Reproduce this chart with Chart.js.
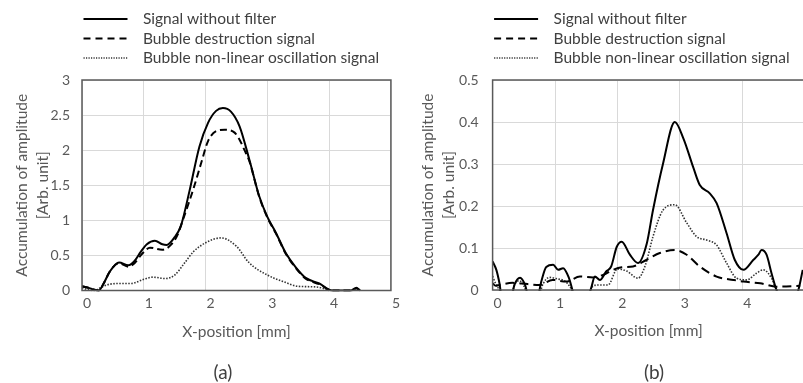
<!DOCTYPE html>
<html>
<head>
<meta charset="utf-8">
<script src="https://cdn.jsdelivr.net/npm/chart.js@4.4.1/dist/chart.umd.min.js"></script>
<style>
  html, body { margin: 0; padding: 0; background: #fff; overflow: hidden; }
  .panel { position: absolute; top: 0; height: 383px; }
  #wrapA { left: 0; width: 400px; }
  #wrapB { left: 400px; width: 420px; }
</style>
</head>
<body>
<div class="panel" id="wrapA"><canvas id="chartA" width="400" height="383"></canvas></div>
<div class="panel" id="wrapB"><canvas id="chartB" width="420" height="383"></canvas></div>
<script>
// series labels (shared by both panels)
const seriesLabels = ['Signal without filter', 'Bubble destruction signal', 'Bubble non-linear oscillation signal'];
const xTicks = [0, 1, 2, 3, 4, 5];

// panel (a) : [x-position mm, amplitude]
const aSolid = [[0,0.06],[0.1,0.04],[0.2,0.01],[0.27,0],[0.35,0.1],[0.45,0.27],[0.6,0.4],[0.75,0.36],[0.85,0.42],
  [0.95,0.55],[1.05,0.66],[1.18,0.71],[1.3,0.66],[1.37,0.65],[1.5,0.76],[1.6,0.92],[1.74,1.42],[1.9,2.05],[2.04,2.39],
  [2.17,2.56],[2.28,2.6],[2.41,2.55],[2.55,2.34],[2.71,1.86],[2.87,1.34],[3.0,1.05],[3.14,0.82],[3.3,0.53],[3.46,0.33],
  [3.62,0.18],[3.84,0.1],[4.05,0],[4.35,0],[4.44,0.04],[4.5,0]];
const aDashed = [[0,0.06],[0.1,0.04],[0.2,0.01],[0.27,0],[0.35,0.1],[0.45,0.27],[0.6,0.39],[0.75,0.34],[0.85,0.39],
  [0.97,0.52],[1.1,0.61],[1.3,0.58],[1.45,0.66],[1.55,0.8],[1.65,1.05],[1.8,1.44],[1.93,1.82],[2.04,2.13],[2.17,2.27],
  [2.31,2.29],[2.47,2.25],[2.55,2.15],[2.63,2.0],[2.71,1.84],[2.87,1.33],[3.0,1.04],[3.14,0.81],[3.3,0.52],[3.46,0.32],
  [3.62,0.17],[3.84,0.09],[4.05,0],[4.35,0],[4.44,0.03],[4.5,0]];
const aDotted = [[0,0.04],[0.1,0.01],[0.2,0],[0.3,0.04],[0.4,0.08],[0.6,0.1],[0.8,0.1],[1.0,0.16],[1.15,0.19],[1.35,0.17],
  [1.5,0.22],[1.65,0.38],[1.8,0.55],[2.0,0.68],[2.25,0.75],[2.5,0.63],[2.7,0.4],[3.0,0.22],[3.25,0.13],[3.5,0.06],
  [3.8,0.05],[4.0,0]];
const aYTicks = [0, 0.5, 1, 1.5, 2, 2.5, 3];

// panel (b)
const bSolid = [[0,0.068],[0.06,0.048],[0.11,0.016],[0.16,-0.03],[0.28,-0.03],[0.35,0.012],[0.44,0.029],[0.52,0.012],
  [0.6,-0.03],[0.7,-0.03],[0.78,0.02],[0.86,0.055],[0.97,0.06],[1.05,0.048],[1.13,0.052],[1.22,0.03],[1.3,-0.01],
  [1.4,-0.04],[1.5,-0.03],[1.58,0.005],[1.64,0.032],[1.72,0.024],[1.82,0.044],[1.9,0.056],[1.99,0.103],[2.07,0.115],
  [2.2,0.084],[2.33,0.064],[2.47,0.11],[2.57,0.19],[2.73,0.30],[2.92,0.40],[3.06,0.36],[3.22,0.29],[3.32,0.25],
  [3.48,0.23],[3.59,0.207],[3.75,0.135],[3.88,0.072],[4.02,0.048],[4.18,0.072],[4.26,0.084],[4.31,0.095],[4.39,0.084],
  [4.47,0.04],[4.55,0],[4.65,-0.03],[4.8,-0.03],[4.9,0],[4.97,0.048]];
const bDashed = [[0,0.016],[0.05,0.01],[0.11,0.012],[0.32,0.017],[0.56,0.014],[0.75,0.012],[0.96,0.024],[1.18,0.02],
  [1.4,0.032],[1.61,0.03],[1.77,0.036],[1.93,0.048],[2.07,0.054],[2.25,0.056],[2.47,0.072],[2.68,0.088],[2.92,0.095],
  [3.11,0.084],[3.32,0.056],[3.59,0.032],[3.86,0.024],[4.02,0.02],[4.29,0.016],[4.55,0.008],[4.93,0.01]];
const bDotted = [[0,0.033],[0.05,0.015],[0.11,0],[0.2,-0.02],[0.3,-0.01],[0.36,0.015],[0.43,0.022],[0.5,0.01],
  [0.58,-0.02],[0.72,-0.02],[0.81,0.015],[0.91,0.03],[1.05,0.026],[1.15,0.022],[1.25,0.005],[1.32,-0.02],[1.5,-0.02],
  [1.6,0.008],[1.7,0.012],[1.85,0.012],[2.0,0.05],[2.15,0.045],[2.33,0.028],[2.45,0.06],[2.57,0.127],[2.73,0.19],
  [2.92,0.203],[3.11,0.16],[3.27,0.127],[3.43,0.119],[3.59,0.107],[3.75,0.064],[3.91,0.028],[4.07,0.024],[4.23,0.04],
  [4.34,0.048],[4.47,0.028],[4.55,0],[4.65,-0.02]];
const bYTicks = [0, 0.1, 0.2, 0.3, 0.4, 0.5];

const FONT = "Lato, 'Open Sans', sans-serif";
const TEXT = '#595959';
Chart.defaults.font.family = FONT;
Chart.defaults.color = TEXT;

const toXY = arr => arr.map(p => ({ x: p[0], y: p[1] }));

// draws the box, the stacked legend above the plot and the (a)/(b) caption
const decorPlugin = {
  id: 'decor',
  afterDraw(chart, args, opts) {
    const { ctx, chartArea: ca } = chart;
    ctx.save();
    ctx.strokeStyle = '#595959';
    ctx.lineWidth = 1.5;
    ctx.strokeRect(ca.left, ca.top, ca.right - ca.left, ca.bottom - ca.top);

    const rows = [19, 38.5, 58];
    chart.data.datasets.forEach((ds, i) => {
      const x0 = ca.left + 1.5;
      ctx.beginPath();
      ctx.strokeStyle = ds.borderColor;
      ctx.lineWidth = ds.borderWidth;
      ctx.setLineDash(ds.legendDash || []);
      ctx.moveTo(x0, rows[i]);
      ctx.lineTo(x0 + 44, rows[i]);
      ctx.stroke();
      ctx.setLineDash([]);
      ctx.fillStyle = '#404040';
      ctx.font = '15.5px ' + FONT;
      ctx.textBaseline = 'middle';
      ctx.textAlign = 'left';
      ctx.fillText(ds.label, x0 + 59.5, rows[i]);
    });

    ctx.fillStyle = '#404040';
    ctx.font = '19px ' + FONT;
    ctx.textAlign = 'center';
    ctx.textBaseline = 'middle';
    ctx.fillText(opts.caption, opts.captionX, 373);
    ctx.restore();
  }
};

function makeChart(id, cfg) {
  return new Chart(document.getElementById(id), {
    type: 'line',
    data: {
      datasets: [
        { label: seriesLabels[0], data: toXY(cfg.solid), borderColor: '#000', borderWidth: 2, legendDash: [] },
        { label: seriesLabels[1], data: toXY(cfg.dashed), borderColor: '#000', borderWidth: 2,
          borderDash: cfg.dash, legendDash: [7, 5] },
        { label: seriesLabels[2], data: toXY(cfg.dotted), borderColor: '#333', borderWidth: 1.6,
          borderDash: [1.5, 1.5], legendDash: [1.2, 1.3] }
      ]
    },
    options: {
      responsive: false,
      animation: false,
      events: [],
      layout: { padding: { top: 80, right: cfg.padR, bottom: 383 - cfg.bottom - 50, left: 0 } },
      elements: {
        point: { radius: 0 },
        line: { cubicInterpolationMode: 'monotone', fill: false }
      },
      datasets: { line: { clip: 1 } },
      plugins: {
        legend: { display: false },
        tooltip: { enabled: false },
        decor: { caption: cfg.caption, captionX: cfg.captionX }
      },
      scales: {
        x: {
          type: 'linear', min: xTicks[0], max: xTicks[xTicks.length - 1],
          afterBuildTicks: s => { s.ticks = xTicks.map(v => ({ value: v })); },
          afterFit: s => { s.height = 50; },
          grid: { color: '#d9d9d9', lineWidth: 1, drawTicks: false },
          border: { display: false },
          ticks: { padding: 5, labelOffset: 5, font: { size: 14 }, color: TEXT, callback: v => String(v) },
          title: { display: true, text: 'X-position [mm]', font: { size: 15.5, lineHeight: 1.1 }, color: TEXT, padding: 0 }
        },
        y: {
          type: 'linear', min: cfg.yTicks[0], max: cfg.yTicks[cfg.yTicks.length - 1],
          afterBuildTicks: s => { s.ticks = cfg.yTicks.map(v => ({ value: v })); },
          afterFit: s => { s.width = cfg.yW; },
          grid: { color: '#d9d9d9', lineWidth: 1, drawTicks: false },
          border: { display: false },
          ticks: { padding: cfg.yPad, font: { size: 14 }, color: TEXT, callback: v => String(v) },
          title: {
            display: true, text: ['Accumulation of amplitude', '[Arb. unit]'],
            font: { size: 15.5, lineHeight: 1.36 }, color: TEXT, padding: { top: cfg.titlePad, bottom: 0 }
          }
        }
      }
    },
    plugins: [decorPlugin]
  });
}

makeChart('chartA', {
  solid: aSolid, dashed: aDashed, dotted: aDotted, yTicks: aYTicks, dash: [7, 4],
  yW: 82, padR: 8, bottom: 290.5, yPad: 12, titlePad: 11.2, caption: '(a)', captionX: 223
});
makeChart('chartB', {
  solid: bSolid, dashed: bDashed, dotted: bDotted, yTicks: bYTicks, dash: [9, 5],
  yW: 92.6, padR: 15.4, bottom: 290, yPad: 14, titlePad: 17.5, caption: '(b)', captionX: 254
});
</script>
</body>
</html>
